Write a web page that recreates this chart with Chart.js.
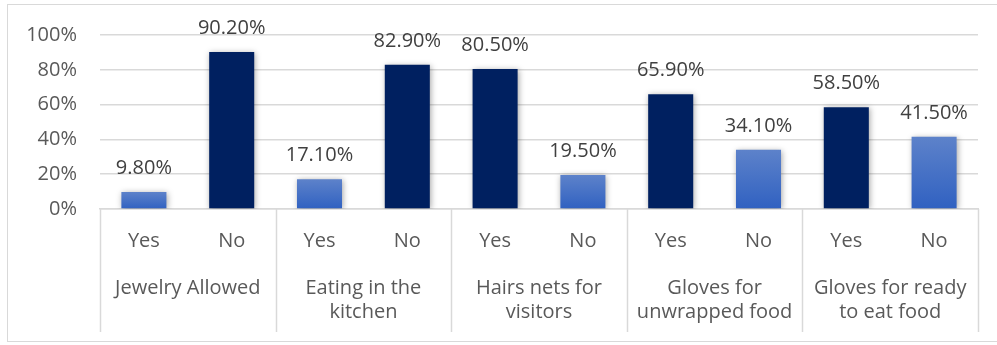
<!DOCTYPE html>
<html>
<head>
<meta charset="utf-8">
<title>Food safety practices</title>
<script src="https://cdn.jsdelivr.net/npm/chart.js@4.4.1/dist/chart.umd.min.js"></script>
<style>
  html, body { margin: 0; padding: 0; background: #ffffff; }
  #wrap { position: relative; width: 997px; height: 345px; overflow: hidden; }
  #frame {
    position: absolute; left: 7px; top: 4px; width: 1000px; height: 338px;
    border: 1px solid #d9d9d9; box-sizing: border-box;
  }
  #chart { position: absolute; left: 0; top: 0; }
</style>
</head>
<body>
<div id="wrap">
  <div id="frame"></div>
  <canvas id="chart" width="997" height="345"></canvas>
</div>
<script>
// Survey questions (outer axis level) and answers (inner axis level)
const groups = [
  'Jewelry Allowed',
  ['Eating in the', 'kitchen'],
  ['Hairs nets for', 'visitors'],
  ['Gloves for', 'unwrapped food'],
  ['Gloves for ready', 'to eat food']
];
const answers = ['Yes', 'No'];

// Share of respondents (%) per question
const yesValues = [9.8, 17.1, 80.5, 65.9, 58.5];
const noValues = [90.2, 82.9, 19.5, 34.1, 41.5];

// Value axis ticks (%)
const yTicks = [0, 20, 40, 60, 80, 100];

// Flatten into one bar per (question, answer)
const barLabels = [];
const barValues = [];
const partnerValues = [];
groups.forEach((g, i) => {
  barLabels.push(answers[0], answers[1]);
  barValues.push(yesValues[i], noValues[i]);
  partnerValues.push(noValues[i], yesValues[i]);
});

const DARK = '#002060';
const TEXT = '#595959';
const GRID = '#d9d9d9';

Chart.defaults.font.family = "'Open Sans', sans-serif";
Chart.defaults.font.size = 20;
Chart.defaults.color = TEXT;

// Majority answer in navy, minority answer in a vertical blue gradient
function barColor(ctx) {
  const i = ctx.dataIndex;
  if (i === undefined) return DARK;
  if (barValues[i] >= partnerValues[i]) return DARK;
  const y = ctx.chart.scales.y;
  if (!y || !isFinite(y.top)) return '#4472c4';
  const top = y.getPixelForValue(barValues[i]);
  const bottom = y.getPixelForValue(0);
  const g = ctx.chart.ctx.createLinearGradient(0, top, 0, bottom);
  g.addColorStop(0, '#5d82ca');
  g.addColorStop(1, '#3061c1');
  return g;
}

// Soft drop shadow under the bars
const barShadow = {
  id: 'barShadow',
  beforeDatasetsDraw(chart) {
    const c = chart.ctx;
    c.save();
    c.shadowColor = 'rgba(0,0,0,0.35)';
    c.shadowBlur = 6;
    c.shadowOffsetX = 1;
    c.shadowOffsetY = 1;
  },
  afterDatasetsDraw(chart) {
    chart.ctx.restore();
  }
};

// Percentage labels above each bar
const valueLabels = {
  id: 'valueLabels',
  afterDatasetsDraw(chart) {
    const c = chart.ctx;
    const meta = chart.getDatasetMeta(0);
    c.save();
    c.font = "20px 'Open Sans', sans-serif";
    c.fillStyle = '#404040';
    c.textAlign = 'center';
    c.textBaseline = 'alphabetic';
    meta.data.forEach((bar, i) => {
      c.fillText(barValues[i].toFixed(2) + '%', bar.x, bar.y - 18);
    });
    c.restore();
  }
};

// Vertical dividers between question groups across both axis levels
const groupDividers = {
  id: 'groupDividers',
  afterDraw(chart) {
    const x = chart.scales.x;
    const g = chart.scales.group;
    const c = chart.ctx;
    const step = x.width / groups.length;
    c.save();
    c.strokeStyle = GRID;
    c.lineWidth = 1.5;
    for (let i = 0; i <= groups.length; i++) {
      const px = Math.round(x.left + i * step) + 0.5;
      c.beginPath();
      c.moveTo(px, chart.chartArea.bottom);
      c.lineTo(px, Math.max(g.bottom, x.bottom));
      c.stroke();
    }
    c.restore();
  }
};

new Chart(document.getElementById('chart'), {
  type: 'bar',
  data: {
    labels: barLabels,
    datasets: [{
      data: barValues,
      backgroundColor: barColor,
      borderWidth: 0,
      barPercentage: 0.513,
      categoryPercentage: 1.0
    }]
  },
  options: {
    responsive: false,
    animation: false,
    devicePixelRatio: 1,
    layout: { padding: { left: 0, right: 19, top: 33, bottom: 13 } },
    plugins: {
      legend: { display: false },
      tooltip: { enabled: false }
    },
    scales: {
      y: {
        min: 0,
        max: 100,
        afterFit(s) { s.width = 100; },
        afterBuildTicks(s) { s.ticks = yTicks.map(v => ({ value: v })); },
        ticks: {
          padding: 23,
          callback: v => v + '%'
        },
        grid: { color: GRID, lineWidth: 1.5, drawTicks: false },
        border: { display: false }
      },
      x: {
        position: 'bottom',
        weight: 0,
        afterFit(s) { s.height = 55; },
        ticks: { padding: 20, maxRotation: 0, autoSkip: false },
        grid: { display: false, drawTicks: false },
        border: { display: true, color: GRID, width: 1.5 }
      },
      group: {
        type: 'category',
        position: 'bottom',
        weight: 1,
        labels: groups,
        offset: true,
        afterFit(s) { s.height = 68; },
        ticks: { padding: 12, maxRotation: 0, autoSkip: false },
        grid: { display: false, drawTicks: false },
        border: { display: false }
      }
    }
  },
  plugins: [barShadow, valueLabels, groupDividers]
});
</script>
</body>
</html>
